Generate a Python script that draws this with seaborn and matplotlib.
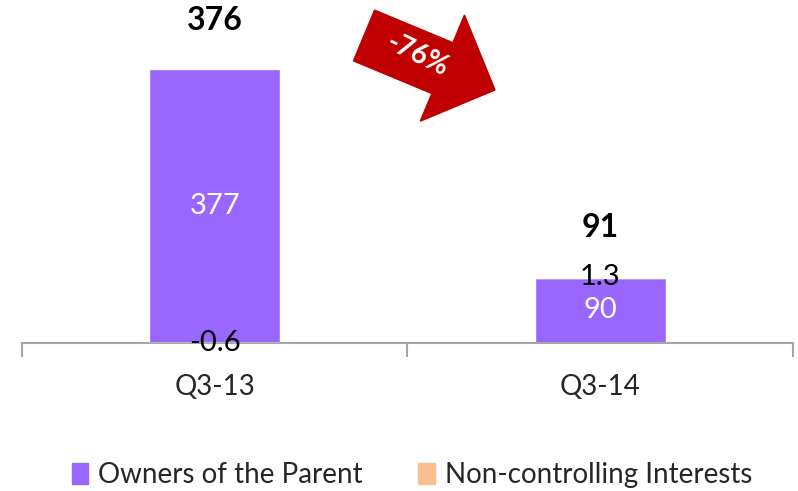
import matplotlib
matplotlib.use("Agg")
import matplotlib.pyplot as plt
import seaborn as sns
import pandas as pd
from matplotlib.patches import FancyArrow, Patch

# ── data ──────────────────────────────────────────────────────────────────
quarters = ["Q3-13", "Q3-14"]
owners   = [377, 90]
nci      = [-0.6, 1.3]
totals   = [376, 91]
change_label = "-76%"

PURPLE = "#9966FF"
PEACH  = "#FAC090"
RED    = "#C00000"
GREY   = "#A6A6A6"

sns.set_theme(style="white")
plt.rcParams["font.family"] = ["Lato", "DejaVu Sans"]

fig = plt.figure(figsize=(7.98, 4.91), dpi=100)
ax = fig.add_axes([22 / 798, (491 - 343) / 491, (793 - 22) / 798, (343 - 20) / 491])

df = pd.DataFrame({"quarter": quarters, "owners": owners})
sns.barplot(data=df, x="quarter", y="owners", color=PURPLE, width=0.34,
            saturation=1, ax=ax)

# non-controlling interests stacked on top (negative ones go below zero)
x = range(len(quarters))
bottoms = [o if n >= 0 else 0 for o, n in zip(owners, nci)]
ax.bar(x, nci, bottom=bottoms, width=0.34, color=PEACH, zorder=3)

ax.set_xlim(-0.5, len(quarters) - 0.5)
ax.set_ylim(0, 444)
ax.set_xlabel("")
ax.set_ylabel("")
ax.set_yticks([])

for s in ["top", "right", "left"]:
    ax.spines[s].set_visible(False)
ax.spines["bottom"].set_color(GREY)
ax.spines["bottom"].set_linewidth(1.5)

ax.set_xticks(list(x))
ax.set_xticklabels(quarters, fontsize=20)
ax.tick_params(axis="x", which="major", length=0, pad=22)
ax.set_xticks([i - 0.5 for i in range(len(quarters) + 1)], minor=True)
ax.tick_params(axis="x", which="minor", length=10, width=1.5, color=GREY,
               direction="out", bottom=True)

# segment labels
for i, (o, n, b) in enumerate(zip(owners, nci, bottoms)):
    ax.text(i, o / 2, f"{o}", ha="center", va="center", color="white", fontsize=21)
    ax.text(i, b + n / 2, f"{n}", ha="center", va="center", color="black", fontsize=21)

# totals
for i, (t, o, n) in enumerate(zip(totals, owners, nci)):
    top = o + max(n, 0)
    ax.annotate(f"{t}", (i, top), xytext=(0, 35), textcoords="offset points",
                ha="center", va="center", color="black",
                fontsize=23, fontweight="bold")

# red change arrow (drawn in inches of the figure)
arrow = FancyArrow(3.64, (491 - 35.5) / 100, 1.31, -0.545, width=0.55,
                   head_width=1.15, head_length=0.57, length_includes_head=True,
                   color=RED, transform=fig.dpi_scale_trans, zorder=5)
fig.add_artist(arrow)
fig.text(4.17, (491 - 55) / 100, change_label, transform=fig.dpi_scale_trans,
         ha="center", va="center", rotation=-26, color="white", fontsize=20,
         fontweight="bold", zorder=6)

handles = [Patch(color=PURPLE, label="Owners of the Parent"),
           Patch(color=PEACH, label="Non-controlling Interests")]
fig.legend(handles=handles, loc="lower center", bbox_to_anchor=(0.516, -0.045),
           ncol=2, frameon=False, fontsize=20, handlelength=0.6,
           handleheight=0.75, handletextpad=0.35, columnspacing=2.0)

fig.savefig("out.png", dpi=100)
